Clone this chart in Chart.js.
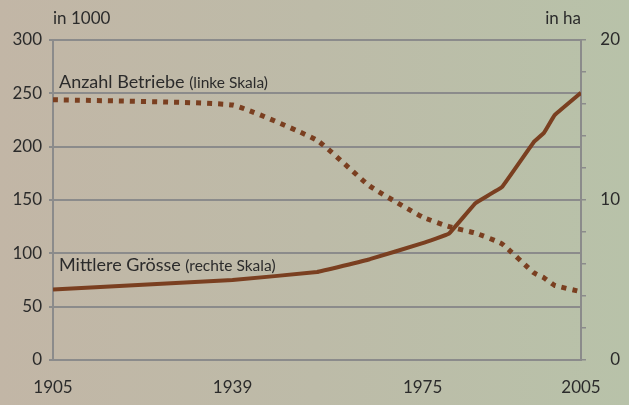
<!DOCTYPE html>
<html>
<head>
<meta charset="utf-8">
<script src="https://cdn.jsdelivr.net/npm/chart.js@4.4.1/dist/chart.umd.min.js"></script>
<style>
html,body{margin:0;padding:0;background:#bdbaa7}
</style>
</head>
<body>
<canvas id="myChart" width="629" height="405"></canvas>
<script>
// data
var years = [1905, 1939, 1955, 1965, 1975, 1980, 1985, 1990, 1996, 1998, 2000, 2005]
var betriebe = [244, 239, 206, 163, 134, 125, 119, 109, 82, 77, 70, 64]      // in 1000, left scale
var groesse = [4.4, 5.0, 5.5, 6.3, 7.3, 7.9, 9.8, 10.8, 13.6, 14.2, 15.3, 16.7] // in ha, right scale
var yearTicks = [1905, 1939, 1975, 2005]

var brown = '#7a3f20'
var grey = '#8b8b8b'
var ink = '#2b2b2b'
var font = 'Lato'

// background + texts
var decor = {
    id: 'decor',
    beforeDraw(chart) {
        let ctx = chart.ctx
        let g = ctx.createLinearGradient(0, 0, chart.width, 0)
        g.addColorStop(0, '#c2b6a6')
        g.addColorStop(0.5, '#bdbba8')
        g.addColorStop(1, '#b8c2a9')
        ctx.save()
        ctx.fillStyle = g
        ctx.fillRect(0, 0, chart.width, chart.height)
        ctx.restore()
    },
    afterDraw(chart) {
        let ctx = chart.ctx
        let a = chart.chartArea
        ctx.save()
        ctx.fillStyle = ink
        ctx.textBaseline = 'alphabetic'
        ctx.font = '17px ' + font
        ctx.textAlign = 'left'
        ctx.fillText('in 1000', a.left, 24)
        ctx.textAlign = 'right'
        ctx.fillText('in ha', a.right, 24)

        ctx.textAlign = 'left'
        let x = a.left + 6
        ctx.font = '18px ' + font
        let w = ctx.measureText('Anzahl Betriebe ').width
        ctx.fillText('Anzahl Betriebe ', x, 88)
        ctx.font = '15.5px ' + font
        ctx.fillText('(linke Skala)', x + w, 88)

        ctx.font = '18px ' + font
        w = ctx.measureText('Mittlere Grösse ').width
        ctx.fillText('Mittlere Grösse ', x, 271)
        ctx.font = '15.5px ' + font
        ctx.fillText('(rechte Skala)', x + w, 271)
        ctx.restore()
    }
}

var ctx = document.getElementById('myChart')
var myChart = new Chart(ctx, {
    type: 'line',
    data: {
        labels: years,
        datasets: [{
            label: 'Mittlere Grösse',
            data: groesse,
            yAxisID: 'y1',
            borderColor: brown,
            borderWidth: 4,
            pointRadius: 0,
            tension: 0.05,
            order: 0
        }, {
            label: 'Anzahl Betriebe',
            data: betriebe,
            yAxisID: 'y',
            borderColor: brown,
            borderWidth: 5,
            borderDash: [5, 6],
            borderCapStyle: 'butt',
            pointRadius: 0,
            tension: 0.12,
            order: 1
        }]
    },
    options: {
        responsive: false,
        animation: false,
        layout: { padding: { top: 40, right: 9 } },
        plugins: {
            legend: { display: false },
            tooltip: { enabled: false }
        },
        scales: {
            x: {
                type: 'linear',
                min: 1905,
                max: 2005,
                afterBuildTicks: function (scale) {
                    scale.ticks = yearTicks.map(v => ({ value: v }))
                },
                afterFit: function (scale) { scale.height = 45 },
                grid: { display: false },
                border: { display: true, color: grey, width: 2 },
                ticks: {
                    padding: 9,
                    color: ink,
                    font: { family: font, size: 17 },
                    maxRotation: 0,
                    callback: v => String(v)
                }
            },
            y: {
                position: 'left',
                min: 0,
                max: 300,
                afterFit: function (scale) { scale.width = 53 },
                grid: { color: grey, lineWidth: 2, tickLength: 4 },
                border: { display: true, color: grey, width: 2 },
                ticks: {
                    stepSize: 50,
                    padding: 7,
                    color: ink,
                    font: { family: font, size: 17 }
                }
            },
            y1: {
                position: 'right',
                min: 0,
                max: 20,
                afterFit: function (scale) { scale.width = 39 },
                grid: { drawOnChartArea: false, color: grey, lineWidth: 1.5, tickLength: 5 },
                border: { display: true, color: grey, width: 2 },
                ticks: {
                    stepSize: 2,
                    crossAlign: 'far',
                    color: ink,
                    font: { family: font, size: 17 },
                    callback: v => (v % 10 === 0 ? v : '')
                }
            }
        }
    },
    plugins: [decor]
})
</script>
</body>
</html>
